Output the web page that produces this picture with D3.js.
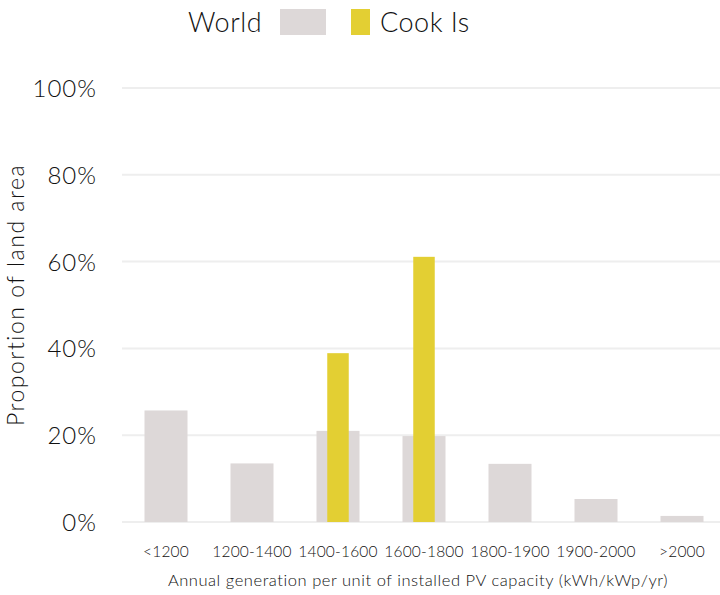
<!DOCTYPE html>
<html><head><meta charset="utf-8">
<script src="https://cdn.jsdelivr.net/npm/d3@7"></script>
<style>body{margin:0;background:#fff}svg{display:block}text{font-family:Lato,"Open Sans",sans-serif;font-weight:300;fill:#111}</style>
</head><body>
<script>
const categories = ["<1200","1200-1400","1400-1600","1600-1800","1800-1900","1900-2000",">2000"];
const worldValues = [25.7, 13.5, 21.0, 19.8, 13.4, 5.3, 1.4];
const cookValues = [0, 0, 38.9, 61.1, 0, 0, 0];
const yTicks = [0, 20, 40, 60, 80, 100];
const seriesNames = ["World", "Cook Is"];
const colors = {world:"#ddd8d8", cook:"#e3cf33"};

const W=720, H=595;
const svg = d3.select("body").append("svg").attr("width",W).attr("height",H);
const x = d3.scaleBand().domain(categories).range([123,725]).paddingInner(0.5).paddingOuter(0.25);
const y = d3.scaleLinear().domain([0,100]).range([522,88]);

// grid
svg.append("g").selectAll("line").data(yTicks).join("line")
  .attr("x1",122).attr("x2",720).attr("y1",d=>y(d)).attr("y2",d=>y(d))
  .attr("stroke","#eeeeee").attr("stroke-width",2);

// y axis labels
const yAxis = d3.axisLeft(y).tickValues(yTicks).tickFormat(d=>d+"%").tickSize(0).tickPadding(0);
const ga = svg.append("g").attr("transform","translate(97,0)").call(yAxis);
ga.select(".domain").remove();
ga.selectAll("text").style("font-size","24px").style("font-family","Lato,sans-serif").style("font-weight","300").style("letter-spacing","1px").attr("fill","#111").attr("dy","0.35em");

// world bars
svg.append("g").selectAll("rect").data(categories).join("rect")
  .attr("x",d=>x(d)).attr("width",x.bandwidth())
  .attr("y",(d,i)=>y(worldValues[i])).attr("height",(d,i)=>y(0)-y(worldValues[i]))
  .attr("fill",colors.world);
// cook bars
const cw = x.bandwidth()*0.5;
svg.append("g").selectAll("rect").data(categories).join("rect")
  .attr("x",d=>x(d)+x.bandwidth()/2-cw/2).attr("width",cw)
  .attr("y",(d,i)=>y(cookValues[i])).attr("height",(d,i)=>y(0)-y(cookValues[i]))
  .attr("fill",colors.cook);

// x axis labels
const xAxis = d3.axisBottom(x).tickSize(0).tickPadding(0);
const gx = svg.append("g").attr("transform","translate(0,552)").call(xAxis);
gx.select(".domain").remove();
gx.selectAll("text").style("font-size","15.5px").style("font-family","Lato,sans-serif").style("font-weight","300").style("letter-spacing","0.2px").attr("fill","#111").attr("dy","0.35em");

svg.append("text").attr("x",418).attr("y",586).attr("text-anchor","middle").style("font-size","16.5px").style("letter-spacing","0.55px").text("Annual generation per unit of installed PV capacity (kWh/kWp/yr)");
svg.append("text").attr("transform","translate(24,295) rotate(-90)").attr("text-anchor","middle").style("font-size","23px").style("letter-spacing","1.5px").text("Proportion of land area");

// legend
svg.append("text").attr("x",188).attr("y",32).style("font-size","27px").style("letter-spacing","0.5px").text(seriesNames[0]);
svg.append("rect").attr("x",280).attr("y",9).attr("width",46).attr("height",26).attr("fill",colors.world);
svg.append("rect").attr("x",351).attr("y",9).attr("width",19).attr("height",26).attr("fill",colors.cook);
svg.append("text").attr("x",380).attr("y",32).style("font-size","27px").style("letter-spacing","0.5px").text(seriesNames[1]);
</script>
</body></html>
